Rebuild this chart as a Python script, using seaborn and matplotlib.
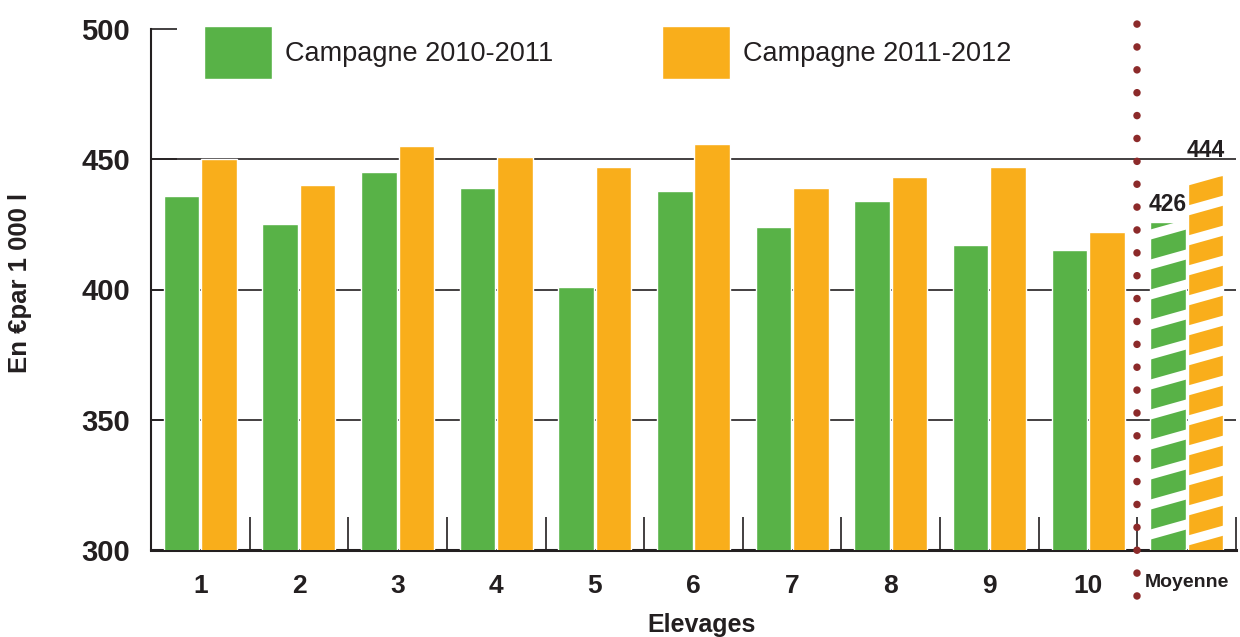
import numpy as np
import pandas as pd
import matplotlib
matplotlib.use("Agg")
import matplotlib.pyplot as plt
import seaborn as sns

# ---- data ----
categories = ["1", "2", "3", "4", "5", "6", "7", "8", "9", "10", "Moyenne"]
campagne_2010_2011 = [436, 425, 445, 439, 401, 438, 424, 434, 417, 415, 426]
campagne_2011_2012 = [450, 440, 455, 451, 447, 456, 439, 443, 447, 422, 444]
series_names = ["Campagne 2010-2011", "Campagne 2011-2012"]
y_ticks = [300, 350, 400, 450, 500]

GREEN = "#58B247"
ORANGE = "#F9AE1B"
DARK = "#231F20"
DOTS = "#8C2A2A"

df = pd.DataFrame({
    "Elevage": categories * 2,
    "Valeur": campagne_2010_2011 + campagne_2011_2012,
    "Campagne": [series_names[0]] * len(categories) + [series_names[1]] * len(categories),
})

sns.set_theme(style="white")
plt.rcParams["font.family"] = ["Liberation Sans", "DejaVu Sans"]

W, H = 1240, 637
fig = plt.figure(figsize=(W / 100, H / 100), dpi=100)
ax_l, ax_r, ax_b, ax_t = 151, 1236, 550, 29
ax = fig.add_axes([ax_l / W, (H - ax_b) / H, (ax_r - ax_l) / W, (ax_b - ax_t) / H])

sns.barplot(data=df, x="Elevage", y="Valeur", hue="Campagne", order=categories,
            hue_order=series_names, palette=[GREEN, ORANGE], width=0.76, gap=0.05,
            saturation=1, ax=ax, zorder=3, legend=True)

ax.set_xlim(-0.5, len(categories) - 0.5)
ax.set_ylim(y_ticks[0], y_ticks[-1])
ax.set_yticks(y_ticks)
ax.set_yticklabels([str(t) for t in y_ticks], fontsize=21, fontweight="bold", color=DARK)

# gridlines (except at 500)
ax.yaxis.grid(True, color=DARK, linewidth=1.2, zorder=0)
ax.set_axisbelow(True)
for gl in ax.get_ygridlines()[-1:]:
    gl.set_visible(False)
ax.tick_params(axis="y", direction="in", length=19, width=1.2, color=DARK, pad=15, left=True)

# x ticks
ax.set_xticks(range(len(categories)))
ax.set_xticklabels(categories, fontweight="bold", color=DARK)
for lab in ax.get_xticklabels():
    lab.set_fontsize(14 if lab.get_text() == "Moyenne" else 19)
ax.tick_params(axis="x", which="major", length=0, pad=17.5)
ax.set_xticks(np.arange(-0.5, len(categories), 1.0), minor=True)
ax.tick_params(axis="x", which="minor", direction="in", length=24, width=1.2, color=DARK, bottom=True)

for s in ["top", "right"]:
    ax.spines[s].set_visible(False)
ax.spines["left"].set_color(DARK)
ax.spines["left"].set_linewidth(1.5)
ax.spines["bottom"].set_color(DARK)
ax.spines["bottom"].set_linewidth(2.2)

ax.set_xlabel("Elevages", fontsize=18, fontweight="bold", color=DARK)
ax.xaxis.set_label_coords((702 - ax_l) / (ax_r - ax_l), -(613 - ax_b) / (ax_b - ax_t))
ax.set_ylabel("En €par 1 000 l", fontsize=18.5, fontweight="bold", color=DARK)
ax.yaxis.set_label_coords(-(ax_l - 32) / (ax_r - ax_l), (ax_b - 283) / (ax_b - ax_t))

# vertical dotted separator before "Moyenne"
sep_x = len(categories) - 1.5
ax.axvline(sep_x, ymin=-(596 - ax_b) / (ax_b - ax_t), ymax=1 + (ax_t - 15) / (ax_b - ax_t),
           clip_on=False, color=DOTS, linewidth=5.4, linestyle=(0, (0.01, 3.04)),
           dash_capstyle="round", zorder=5)

# hatched (striped) "Moyenne" bars
px_x = (ax_r - ax_l) / len(categories)
px_y = (ax_b - ax_t) / (y_ticks[-1] - y_ticks[0])
period = 30 / px_y
slope = 0.28 * px_x / px_y  # data-y per data-x
offsets_px = [14, 8]
for ci, cont in enumerate(ax.containers):
    patch = cont.patches[-1]
    x0, w = patch.get_x(), patch.get_width()
    base = y_ticks[0] - 2 * period + offsets_px[ci] / px_y
    for k in range(int((y_ticks[-1] - y_ticks[0]) / period) + 4):
        y0 = base + k * period
        ln, = ax.plot([x0 - 0.05, x0 + w + 0.05], [y0, y0 + slope * (w + 0.1)],
                      color="white", linewidth=7.0, solid_capstyle="butt", zorder=4)
        ln.set_clip_path(patch.get_path(), patch.get_transform())

# value labels on "Moyenne"
label_offsets = [4, 9.5]
for ci, cont in enumerate(ax.containers):
    patch = cont.patches[-1]
    val = [campagne_2010_2011, campagne_2011_2012][ci][-1]
    ax.annotate(f"{val}", xy=(patch.get_x() + patch.get_width() / 2, val),
                xytext=(0, label_offsets[ci]), textcoords="offset points",
                ha="center", va="bottom", fontsize=16.5, fontweight="bold", color=DARK, zorder=6)

# legend
handles, labels = ax.get_legend_handles_labels()
ax.legend(handles, labels, loc="upper left", bbox_to_anchor=(204 / W, (H - 26) / H),
          bbox_transform=fig.transFigure, ncol=2, frameon=False, borderpad=0,
          borderaxespad=0, fontsize=19.5, handlelength=2.5, handleheight=2.65,
          handletextpad=0.5, columnspacing=4.0, labelcolor=DARK)

fig.savefig("out.png", dpi=100)
